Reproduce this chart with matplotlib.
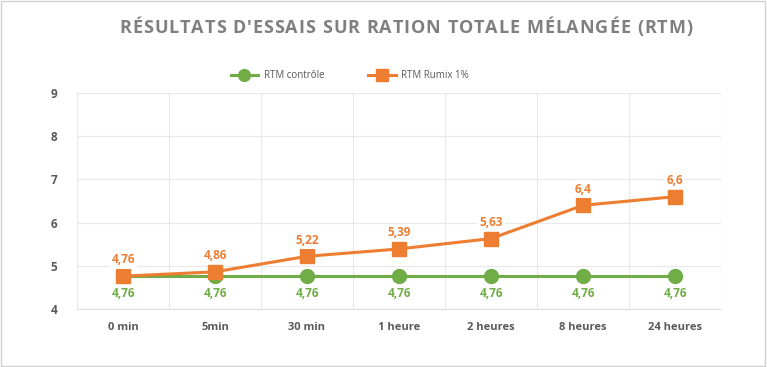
import matplotlib.pyplot as plt
import numpy as np

# Data
categories = ['0 min', '5min', '30 min', '1 heure', '2 heures', '8 heures', '24 heures']
controle = [4.76, 4.76, 4.76, 4.76, 4.76, 4.76, 4.76]
rumix = [4.76, 4.86, 5.22, 5.39, 5.63, 6.4, 6.6]
yticks = [4, 5, 6, 7, 8, 9]
title = "RÉSULTATS D'ESSAIS SUR RATION TOTALE MÉLANGÉE (RTM)"

green = '#70AD47'
orange = '#ED7D31'
grey = '#595959'

plt.rcParams['font.family'] = ['Open Sans', 'DejaVu Sans']

fig = plt.figure(figsize=(7.67, 3.67), dpi=100)
ax = fig.add_axes([77 / 767, 1 - 309 / 367, (721 - 77) / 767, (309 - 93) / 367])

x = np.arange(len(categories))
ax.plot(x, controle, '-o', color=green, lw=2.2, ms=10, label='RTM contrôle', zorder=3)
ax.plot(x, rumix, '-s', color=orange, lw=2.2, ms=10, label='RTM Rumix 1%', zorder=4)

def fmt(v):
    return ('%g' % v).replace('.', ',')

box = dict(facecolor='white', edgecolor='none', pad=1.5)
for xi, v in zip(x, rumix):
    ax.annotate(fmt(v), (xi, v), xytext=(0, 7), textcoords='offset points',
                ha='center', va='bottom', color=orange, fontsize=8.5, fontweight='bold',
                bbox=box, zorder=5)
for xi, v in zip(x, controle):
    ax.annotate(fmt(v), (xi, v), xytext=(0, -8), textcoords='offset points',
                ha='center', va='top', color=green, fontsize=8.5, fontweight='bold',
                bbox=box, zorder=5)

ax.set_xlim(-0.5, len(categories) - 0.5)
ax.set_ylim(4, 9)
ax.set_yticks(yticks)
ax.set_xticks(x)
ax.set_xticklabels(categories)
ax.set_xticks(np.arange(-0.5, len(categories), 1), minor=True)
ax.grid(False)
ax.grid(True, which='minor', axis='x', color='#E8E8E8', lw=0.8)
ax.grid(True, which='major', axis='y', color='#E8E8E8', lw=0.8)
ax.tick_params(axis='both', which='both', length=0)
ax.tick_params(axis='y', pad=14, labelsize=8.5, labelcolor=grey)
ax.tick_params(axis='x', pad=9, labelsize=8, labelcolor=grey)
for lab in ax.get_xticklabels() + ax.get_yticklabels():
    lab.set_fontweight('bold')
for s in ax.spines.values():
    s.set_visible(False)
ax.spines['bottom'].set_visible(True)
ax.spines['bottom'].set_color('#E0E0E0')

# Title with letter spacing, placed char by char
renderer = fig.canvas.get_renderer()
spacing = 0.85  # px between letters
widths = []
for ch in title:
    t = fig.text(0, 0, ch if ch != ' ' else 'n', fontsize=13, fontweight='bold')
    w = t.get_window_extent(renderer).width
    if ch == ' ':
        w *= 0.45
    widths.append(w)
    t.remove()
total = sum(widths) + spacing * (len(title) - 1)
xpos = 406 - total / 2
for ch, w in zip(title, widths):
    fig.text(xpos / 767, 1 - 28 / 367, ch, ha='left', va='center', fontsize=13,
             fontweight='bold', color='#7F7F7F')
    xpos += w + spacing

fig.legend(loc='center', bbox_to_anchor=(350 / 767, 1 - 76 / 367), ncol=2, frameon=False,
           fontsize=7, labelcolor=grey, handlelength=2.8, handletextpad=0.6,
           columnspacing=4.5, markerscale=0.85)

fig.patches.append(plt.Rectangle((0.001, 0.002), 0.997, 0.995, transform=fig.transFigure,
                                 fill=False, edgecolor='#D0D0D0', lw=1))

fig.savefig('out.png', dpi=100)
